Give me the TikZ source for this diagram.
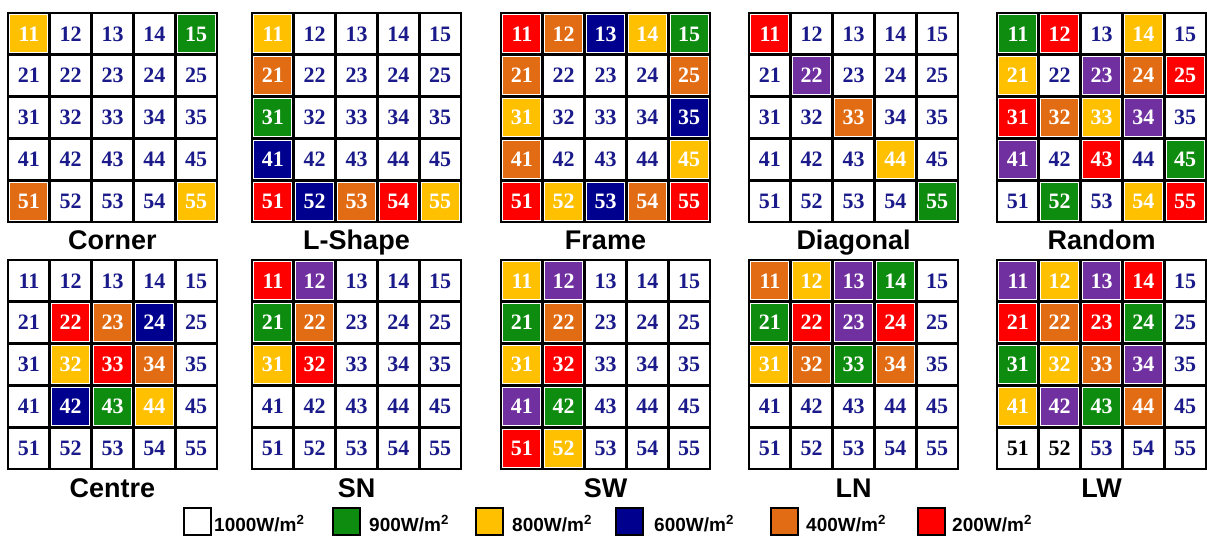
\documentclass[tikz,border=0pt]{standalone}
\usepackage{fontspec}
\setmainfont{Liberation Serif}
\newfontfamily\capfont{Liberation Sans}
\definecolor{numblue}{HTML}{1A1A8A}
\definecolor{cW}{HTML}{FFFFFF}\colorlet{tW}{numblue}
\definecolor{cK}{HTML}{FFFFFF}\colorlet{tK}{black}
\definecolor{cG}{HTML}{0E8C10}\colorlet{tG}{white}
\definecolor{cY}{HTML}{FFC000}\colorlet{tY}{white}
\definecolor{cB}{HTML}{00008F}\colorlet{tB}{white}
\definecolor{cO}{HTML}{E26C14}\colorlet{tO}{white}
\definecolor{cR}{HTML}{FF0000}\colorlet{tR}{white}
\definecolor{cP}{HTML}{7030A0}\colorlet{tP}{white}
\def\cs{41.8}
\tikzset{
  cell/.style={draw=black, line width=2.8pt, minimum size=\cs pt, inner sep=0pt, outer sep=0pt,
    font=\fontsize{22}{22}\selectfont\bfseries},
  inset/.style={draw=white, line width=0.9pt},
  captext/.style={font=\capfont\fontsize{27}{27}\selectfont\bfseries, anchor=base, inner sep=0pt},
  legbox/.style={draw=black, line width=1.8pt, minimum size=27pt, inner sep=0pt},
  legtext/.style={font=\capfont\fontsize{19}{19}\selectfont\bfseries, anchor=base west, inner sep=0pt}
}
\newcommand\gridpanel[6]{%
  \foreach \c [count=\k from 0] in {#4} {
    \pgfmathtruncatemacro\rr{int(\k/5)+1}
    \pgfmathtruncatemacro\cc{mod(\k,5)+1}
    \node[cell, fill=c\c, text=t\c] (#1-\rr\cc) at ({#2+(\cc-0.5)*\cs},{#3+(\rr-0.5)*\cs}) {\rr\cc};
    \draw[inset] ([shift={(1.9,1.9)}]#1-\rr\cc.north west) rectangle ([shift={(-1.9,-1.9)}]#1-\rr\cc.south east);
  }
  \node[captext] (#1-cap) at ({#2+2.5*\cs},#6) {#5};
}
\begin{document}
\begin{tikzpicture}[x=1pt,y=-1pt]
\fill[white] (0,0) rectangle (1207,536);
\useasboundingbox (0,0) rectangle (1207,536);
\gridpanel{corner}{8}{13}{Y,W,W,W,G, W,W,W,W,W, W,W,W,W,W, W,W,W,W,W, O,W,W,W,Y}{Corner}{249}
\gridpanel{lshape}{252}{13}{Y,W,W,W,W, O,W,W,W,W, G,W,W,W,W, B,W,W,W,W, R,B,O,R,Y}{L-Shape}{249}
\gridpanel{frame}{501}{13}{R,O,B,Y,G, O,W,W,W,O, Y,W,W,W,B, O,W,W,W,Y, R,Y,B,O,R}{Frame}{249}
\gridpanel{diag}{749}{13}{R,W,W,W,W, W,P,W,W,W, W,W,O,W,W, W,W,W,Y,W, W,W,W,W,G}{Diagonal}{249}
\gridpanel{random}{997}{13}{G,R,W,Y,W, Y,W,P,O,R, R,O,Y,P,W, P,W,R,W,G, W,G,W,Y,R}{Random}{249}
\gridpanel{centre}{8}{260}{W,W,W,W,W, W,R,O,B,W, W,Y,R,O,W, W,B,G,Y,W, W,W,W,W,W}{Centre}{497}
\gridpanel{sn}{252}{260}{R,P,W,W,W, G,O,W,W,W, Y,R,W,W,W, W,W,W,W,W, W,W,W,W,W}{SN}{497}
\gridpanel{sw}{501}{260}{Y,P,W,W,W, G,O,W,W,W, Y,R,W,W,W, P,G,W,W,W, R,Y,W,W,W}{SW}{497}
\gridpanel{ln}{749}{260}{O,Y,P,G,W, G,R,P,R,W, Y,O,G,O,W, W,W,W,W,W, W,W,W,W,W}{LN}{497}
\gridpanel{lw}{997}{260}{P,Y,P,R,W, R,O,R,G,W, G,Y,O,P,W, Y,P,G,O,W, K,K,W,W,W}{LW}{497}
% legend
\node[legbox, fill=white] (l1) at (197.5,521.5) {};
\node[legtext] (t1) at (214,531) {1000W/m\textsuperscript{2}};
\node[legbox, fill=cG] (l2) at (346.5,521.5) {};
\node[legtext] (t2) at (369,531) {900W/m\textsuperscript{2}};
\node[legbox, fill=cY] (l3) at (489.5,521.5) {};
\node[legtext] (t3) at (512,531) {800W/m\textsuperscript{2}};
\node[legbox, fill=cB] (l4) at (629.5,521.5) {};
\node[legtext] (t4) at (654,531) {600W/m\textsuperscript{2}};
\node[legbox, fill=cO] (l5) at (784.5,521.5) {};
\node[legtext] (t5) at (806,531) {400W/m\textsuperscript{2}};
\node[legbox, fill=cR] (l6) at (931.5,521.5) {};
\node[legtext] (t6) at (952,531) {200W/m\textsuperscript{2}};
\end{tikzpicture}
\end{document}
